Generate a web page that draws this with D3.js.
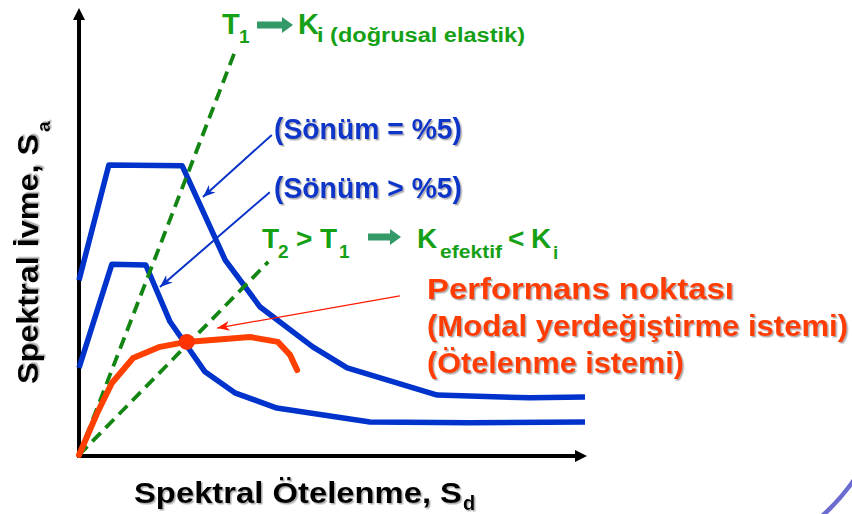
<!DOCTYPE html>
<html>
<head>
<meta charset="utf-8">
<script src="https://cdn.jsdelivr.net/npm/d3@7/dist/d3.min.js"></script>
<style>
  html, body { margin: 0; padding: 0; background: #fff; }
  svg { display: block; }
  text { font-family: "Liberation Sans", Arial, sans-serif; font-weight: bold; }
</style>
</head>
<body>
<div id="chart-area"></div>
<script>
// spectral displacement / acceleration (arbitrary units 0-100)
var sdElastic = [0, 5.9, 20.4, 28.9, 35.8, 46.2, 53.0, 70.8, 89.1, 100];
var saElastic = [39.1, 64.9, 64.7, 43.6, 33.1, 24.2, 19.5, 13.4, 12.8, 13.0];
var sdDamped = [0, 6.5, 13.2, 18.0, 24.9, 30.8, 39.1, 57.5, 77.3, 100];
var saDamped = [19.5, 42.7, 42.5, 29.8, 18.6, 13.9, 10.5, 7.4, 7.2, 7.4];
var sdCapacity = [0, 3.6, 6.5, 10.7, 16.0, 21.3, 33.8, 39.3, 41.7, 43.1];
var saCapacity = [0, 9.4, 16.1, 21.7, 24.2, 25.3, 26.4, 25.3, 22.4, 19.0];
var perfPoint = [21.3, 25.3];
var periodLines = [[[0, 0], [30.8, 90.2]], [[0, 0], [37.4, 43.2]]];
// annotation arrows: [from, to] in data units
var blueArrows = [[[38.1, 71.6], [24.5, 57.7]], [[37.7, 58.8], [16.0, 37.6]]];
var redArrow = [[63.4, 35.6], [27.3, 28.4]];

var W = 852, H = 514;
var x = d3.scaleLinear().domain([0, 100]).range([79, 585]);
var y = d3.scaleLinear().domain([0, 100]).range([455, 8]);

var svg = d3.select("#chart-area").append("svg").attr("width", W).attr("height", H);
var defs = svg.append("defs");
defs.append("filter").attr("id", "shadow")
    .attr("x", "-5%").attr("y", "-20%").attr("width", "115%").attr("height", "150%")
  .append("feDropShadow")
    .attr("dx", 1.5).attr("dy", 1.5).attr("stdDeviation", 0.7)
    .attr("flood-color", "#777").attr("flood-opacity", 0.6);

function marker(id, color, len, wid) {
  defs.append("marker").attr("id", id)
    .attr("viewBox", "0 0 10 8").attr("refX", 10).attr("refY", 4)
    .attr("markerUnits", "userSpaceOnUse")
    .attr("markerWidth", len).attr("markerHeight", wid)
    .attr("orient", "auto")
    .append("path").attr("d", "M0,0 L10,4 L0,8 L3,4 Z").attr("fill", color);
}
marker("blueHead", "#0a33c8", 14, 10);
marker("redHead", "#ff1a00", 14, 10);

var line = d3.line().x((d) => x(d[0])).y((d) => y(d[1]));

// axes
svg.append("line")
  .attr("x1", x(0)).attr("y1", y(0) + 1).attr("x2", x(0)).attr("y2", y(100) + 10)
  .attr("stroke", "#000").attr("stroke-width", 4);
svg.append("path")
  .attr("d", "M" + (x(0) - 6) + "," + (y(100) + 12) + " L" + x(0) + "," + y(100) + " L" + (x(0) + 6) + "," + (y(100) + 12) + "Z")
  .attr("fill", "#000");
svg.append("line")
  .attr("x1", x(0) - 2).attr("y1", y(0) + 1).attr("x2", x(100) - 8).attr("y2", y(0) + 1)
  .attr("stroke", "#000").attr("stroke-width", 4);
svg.append("path")
  .attr("d", "M" + (x(100) - 10) + "," + (y(0) - 5) + " L" + (x(100) + 2) + "," + (y(0) + 1) + " L" + (x(100) - 10) + "," + (y(0) + 7) + "Z")
  .attr("fill", "#000");

// demand spectra
[[sdElastic, saElastic], [sdDamped, saDamped]].forEach((s) => {
  svg.append("path")
    .datum(s[0].map((d, i) => [d, s[1][i]]))
    .attr("d", line)
    .attr("fill", "none").attr("stroke", "#0033cc")
    .attr("stroke-width", 5.5).attr("stroke-linejoin", "round");
});

// period lines
svg.selectAll(".period").data(periodLines).enter()
  .append("path").attr("class", "period")
  .attr("d", line)
  .attr("fill", "none").attr("stroke", "#128512")
  .attr("stroke-width", 3.8).attr("stroke-dasharray", "12,7");

// capacity curve
svg.append("path")
  .datum(sdCapacity.map((d, i) => [d, saCapacity[i]]))
  .attr("d", line)
  .attr("fill", "none").attr("stroke", "#ff4000")
  .attr("stroke-width", 6).attr("stroke-linejoin", "round").attr("stroke-linecap", "round");
svg.append("circle")
  .attr("cx", x(perfPoint[0])).attr("cy", y(perfPoint[1])).attr("r", 8)
  .attr("fill", "#ff3300");

// annotation arrows
svg.selectAll(".barrow").data(blueArrows).enter()
  .append("path").attr("class", "barrow")
  .attr("d", line).attr("stroke", "#0a33c8").attr("stroke-width", 2)
  .attr("marker-end", "url(#blueHead)");
svg.append("path").datum(redArrow)
  .attr("d", line).attr("stroke", "#ff1a00").attr("stroke-width", 1.3)
  .attr("marker-end", "url(#redHead)");

// labels
function label(t, px, py, size, color, len, shadow) {
  var el = svg.append("text").attr("x", px).attr("y", py)
    .attr("font-size", size).attr("fill", color).text(t);
  if (len) el.attr("textLength", len).attr("lengthAdjust", "spacingAndGlyphs");
  if (shadow) el.attr("filter", "url(#shadow)");
  return el;
}
function blockArrow(x0, x1, cy) {
  svg.append("path")
    .attr("d", "M" + x0 + "," + (cy - 3.5) + " H" + (x1 - 11) + " V" + (cy - 8) + " L" + x1 + "," + cy +
      " L" + (x1 - 11) + "," + (cy + 8) + " V" + (cy + 3.5) + " H" + x0 + "Z")
    .attr("fill", "#339966");
}

var green = "#16a016";
label("T", 222, 34, 29, green);
label("1", 239, 43, 19, green);
blockArrow(257, 293, 25);
label("K", 298, 34, 29, green);
label("i (doğrusal elastik)", 317, 42, 20, green, 208);

label("T", 262, 248, 28, green);
label("2", 278, 258, 19, green);
label(">", 296, 248, 28, green);
label("T", 320, 248, 28, green);
label("1", 339, 258, 19, green);
blockArrow(368, 401, 237);
label("K", 417, 248, 28, green);
label("efektif", 440, 258, 19, green, 62);
label("<", 508, 248, 28, green);
label("K", 531, 248, 28, green);
label("i", 553, 259, 19, green);

var blue = "#0a36c8";
label("(Sönüm = %5)", 274, 139, 29, blue, 188, true);
label("(Sönüm > %5)", 274, 198, 29, blue, 188, true);

var orange = "#ff3d00";
label("Performans noktası", 427, 299, 29, orange, 307, true);
label("(Modal yerdeğiştirme istemi)", 427, 336, 29, orange, 421, true);
label("(Ötelenme istemi)", 427, 373, 29, orange, 257, true);

label("Spektral Ötelenme, S", 134, 503, 29, "#000", 328, true);
label("d", 463, 510, 20, "#000", null, true);

svg.append("text").attr("transform", "translate(38,384) rotate(-90)")
  .attr("font-size", 29).attr("fill", "#000")
  .attr("textLength", 250).attr("lengthAdjust", "spacingAndGlyphs")
  .attr("filter", "url(#shadow)")
  .text("Spektral İvme, S");
svg.append("text").attr("transform", "translate(50,132) rotate(-90)")
  .attr("font-size", 19).attr("fill", "#000")
  .attr("filter", "url(#shadow)")
  .text("a");

// slide decoration in the corner
svg.append("path")
  .attr("d", "M822,516 Q840,500 854,480")
  .attr("fill", "none").attr("stroke", "#6b6bd0").attr("stroke-width", 4.5);
</script>
</body>
</html>
